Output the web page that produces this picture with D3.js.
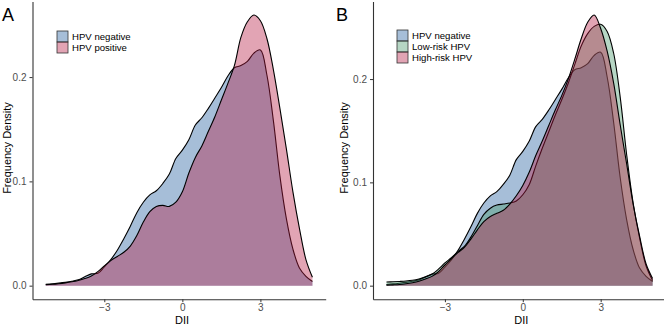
<!DOCTYPE html>
<html>
<head>
<meta charset="utf-8">
<script src="https://cdn.jsdelivr.net/npm/d3@7"></script>
<style>
  body { margin: 0; background: #fff; }
  svg { font-family: "Liberation Sans", Arial, sans-serif; }
</style>
</head>
<body>
<div id="chart"></div>
<script>
// DII grid the densities were read on
var dii = [-5.25, -5.0, -4.75, -4.5, -4.25, -4.0, -3.75, -3.5, -3.25, -3.0, -2.75, -2.5, -2.25, -2.0,
  -1.75, -1.5, -1.25, -1.0, -0.75, -0.5, -0.25, 0.0, 0.25, 0.5, 0.75, 1.0, 1.25, 1.5, 1.75, 2.0,
  2.25, 2.5, 2.75, 3.0, 3.25, 3.5, 3.75, 4.0, 4.25, 4.5, 4.75, 5.0];

// density values
var hpvNegative = [0.0012, 0.0017, 0.0024, 0.0032, 0.0042, 0.0056, 0.0085, 0.0113, 0.0118, 0.018, 0.025, 0.034, 0.045, 0.057,
  0.070, 0.080, 0.087, 0.091, 0.098, 0.107, 0.122, 0.130, 0.140, 0.154, 0.161, 0.170, 0.180, 0.190, 0.201, 0.209,
  0.211, 0.215, 0.223, 0.226, 0.202, 0.158, 0.105, 0.064, 0.035, 0.017, 0.009, 0.004];
var hpvPositive = [0.0010, 0.0013, 0.0019, 0.0027, 0.0037, 0.0050, 0.0068, 0.0093, 0.0135, 0.019, 0.024, 0.028, 0.032, 0.038,
  0.048, 0.061, 0.071, 0.076, 0.077, 0.076, 0.080, 0.090, 0.108, 0.123, 0.134, 0.148, 0.162, 0.178, 0.194, 0.211,
  0.238, 0.253, 0.2595, 0.254, 0.237, 0.207, 0.170, 0.131, 0.090, 0.055, 0.025, 0.008];
var lowRisk = [0.0035, 0.0038, 0.0041, 0.0045, 0.0052, 0.0065, 0.0085, 0.011, 0.016, 0.022, 0.027, 0.033, 0.038, 0.047,
  0.058, 0.069, 0.075, 0.078, 0.079, 0.080, 0.082, 0.088, 0.098, 0.116, 0.133, 0.149, 0.165, 0.180, 0.196, 0.214,
  0.232, 0.244, 0.251, 0.253, 0.246, 0.225, 0.183, 0.127, 0.080, 0.046, 0.019, 0.005];
var highRisk = [0.0005, 0.0008, 0.0012, 0.0019, 0.0029, 0.0043, 0.0064, 0.009, 0.0135, 0.020, 0.026, 0.032, 0.037, 0.045,
  0.054, 0.062, 0.067, 0.070, 0.073, 0.079, 0.087, 0.097, 0.110, 0.126, 0.140, 0.155, 0.170, 0.184, 0.200, 0.219,
  0.239, 0.255, 0.262, 0.249, 0.227, 0.196, 0.156, 0.118, 0.079, 0.048, 0.021, 0.007];

var ticksX = [-3, 0, 3];
var ticksY = [0, 0.1, 0.2];

var labelsA = ["HPV negative", "HPV positive"];
var labelsB = ["HPV negative", "Low-risk HPV", "High-risk HPV"];

var colNeg = "#215d9e";
var colLow = "#48986b";
var colHigh = "#b71c44";
var fillAlpha = 0.4;

var svgWidth = 669;
var svgHeight = 326;

var svg = d3.select("#chart")
  .append("svg")
  .attr("width", svgWidth)
  .attr("height", svgHeight);

// one entry per panel
var panels = [
  {
    letter: "A", letterX: 2, left: 32.5, right: 325.7, xDomain: [-5.76, 5.51],
    yLabelX: 11, legendX: 57, legendY: 31,
    series: [hpvNegative, hpvPositive], labels: labelsA, colors: [colNeg, colHigh]
  },
  {
    letter: "B", letterX: 336, left: 373, right: 663.5, xDomain: [-5.77, 5.42],
    yLabelX: 348, legendX: 397, legendY: 30,
    series: [hpvNegative, lowRisk, highRisk], labels: labelsB, colors: [colNeg, colLow, colHigh]
  }
];

var panelTop = 1.5;
var panelBottom = 299.2;

panels.forEach(function(p) {
  var g = svg.append("g");

  var yMax = d3.max(p.series, function(s) { return d3.max(s); });
  var x = d3.scaleLinear().domain(p.xDomain).range([p.left, p.right]);
  var y = d3.scaleLinear().domain([-yMax * 0.05, yMax * 1.05]).range([panelBottom, panelTop]);

  var area = d3.area()
    .curve(d3.curveCatmullRom.alpha(0.5))
    .x(function(d) { return x(d[0]); })
    .y0(y(0))
    .y1(function(d) { return y(d[1]); });

  var line = d3.line()
    .curve(d3.curveCatmullRom.alpha(0.5))
    .x(function(d) { return x(d[0]); })
    .y(function(d) { return y(d[1]); });

  // each group: fill then outline, so later fills tint earlier lines
  p.series.forEach(function(s, i) {
    var pts = dii.map(function(v, k) { return [v, s[k]]; });
    g.append("path")
      .datum(pts)
      .attr("d", area)
      .attr("fill", p.colors[i])
      .attr("fill-opacity", fillAlpha);
    g.append("path")
      .datum(pts)
      .attr("d", line)
      .attr("fill", "none")
      .attr("stroke", "#000")
      .attr("stroke-width", 1.1);
  });

  // axes
  var xAxis = g.append("g")
    .attr("transform", "translate(0," + panelBottom + ")")
    .call(d3.axisBottom(x).tickValues(ticksX).tickSize(3).tickSizeOuter(0).tickPadding(2));
  var yAxis = g.append("g")
    .attr("transform", "translate(" + p.left + ",0)")
    .call(d3.axisLeft(y).tickValues(ticksY).tickFormat(d3.format(".1f")).tickSize(3).tickSizeOuter(0).tickPadding(3));

  [xAxis, yAxis].forEach(function(a) {
    a.select(".domain").attr("stroke", "#333").attr("stroke-width", 1.1);
    a.selectAll(".tick line").attr("stroke", "#333");
    a.selectAll(".tick text")
      .attr("fill", "#4d4d4d")
      .style("font-size", "10px")
      .style("font-family", "'Liberation Sans', Arial, sans-serif");
  });

  // axis titles
  g.append("text")
    .attr("x", (p.left + p.right) / 2 + 3)
    .attr("y", 324)
    .attr("text-anchor", "middle")
    .style("font-size", "11px")
    .text("DII");

  g.append("text")
    .attr("transform", "translate(" + p.yLabelX + "," + 148 + ") rotate(-90)")
    .attr("text-anchor", "middle")
    .style("font-size", "11px")
    .text("Frequency Density");

  // panel letter
  g.append("text")
    .attr("x", p.letterX)
    .attr("y", 20.5)
    .style("font-size", "18px")
    .text(p.letter);

  // legend
  var keySize = 11;
  var legend = g.append("g").attr("transform", "translate(" + p.legendX + "," + p.legendY + ")");
  p.labels.forEach(function(lab, i) {
    legend.append("rect")
      .attr("x", 0)
      .attr("y", i * keySize)
      .attr("width", keySize)
      .attr("height", keySize)
      .attr("fill", p.colors[i])
      .attr("fill-opacity", fillAlpha)
      .attr("stroke", "#333")
      .attr("stroke-width", 0.8);
    legend.append("text")
      .attr("x", keySize + 4)
      .attr("y", i * keySize + keySize / 2 + 3.5)
      .style("font-size", "9.6px")
      .text(lab);
  });
});
</script>
</body>
</html>
